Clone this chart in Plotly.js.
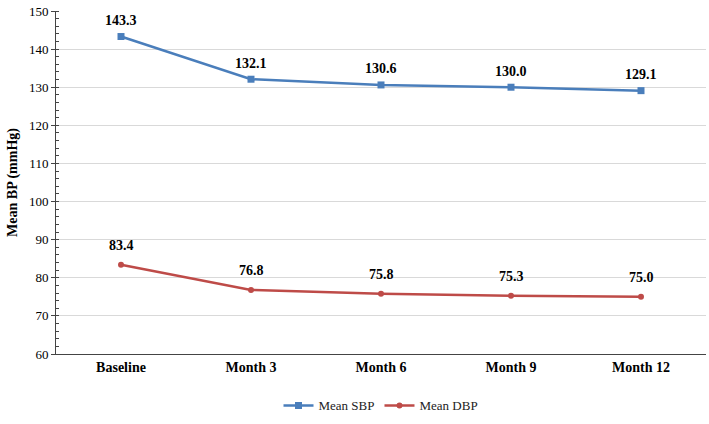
<!DOCTYPE html>
<html><head><meta charset="utf-8">
<script src="https://cdn.plot.ly/plotly-3.0.1.min.js"></script>
<style>body{margin:0;background:#fff}#c{width:709px;height:424px}</style>
</head><body><div id="c"></div>
<script>
const categories = ["Baseline", "Month 3", "Month 6", "Month 9", "Month 12"];
const sbp = [143.3, 132.1, 130.6, 130.0, 129.1];
const dbp = [83.4, 76.8, 75.8, 75.3, 75.0];
const sbpLabels = ["143.3", "132.1", "130.6", "130.0", "129.1"];
const dbpLabels = ["83.4", "76.8", "75.8", "75.3", "75.0"];

const serif = "'Liberation Serif', 'Times New Roman', serif";
const traces = [
  {x: categories, y: sbp, name: "Mean SBP", type: "scatter", mode: "lines+markers",
   line: {color: "#4A7EBB", width: 2.5}, marker: {symbol: "square", size: 7, color: "#4A7EBB"}},
  {x: categories, y: dbp, name: "Mean DBP", type: "scatter", mode: "lines+markers",
   line: {color: "#BE4B48", width: 2.5}, marker: {symbol: "circle", size: 6, color: "#BE4B48"}}
];
const labelFont = {family: serif, size: 14, color: "#000", weight: "bold"};
const annotations = [];
categories.forEach((c, i) => {
  annotations.push({x: c, y: sbp[i], text: sbpLabels[i], showarrow: false, yanchor: "middle", yshift: 16, font: labelFont});
  annotations.push({x: c, y: dbp[i], text: dbpLabels[i], showarrow: false, yanchor: "middle", yshift: 19, font: labelFont});
});
const layout = {
  width: 709, height: 424,
  margin: {l: 56, r: 3, t: 11, b: 68},
  paper_bgcolor: "#fff", plot_bgcolor: "#fff",
  font: {family: serif, color: "#000", size: 13},
  showlegend: true,
  annotations: annotations,
  legend: {orientation: "h", x: 0.5, xanchor: "center", y: -0.15, yanchor: "middle",
           font: {family: serif, size: 13, color: "#222"}, itemwidth: 30},
  xaxis: {type: "category", showgrid: false, showline: true, linecolor: "#444", linewidth: 1,
          ticks: "", tickfont: {family: serif, size: 14, weight: "bold"}, zeroline: false,
          range: [-0.5, 4.5]},
  yaxis: {range: [60, 150], dtick: 10, showgrid: true, gridcolor: "#d9d9d9", gridwidth: 1,
          showline: true, linecolor: "#444", linewidth: 1, ticks: "outside", ticklen: 4, tickcolor: "#444",
          tickfont: {family: serif, size: 13}, zeroline: false,
          minor: {dtick: 2, ticks: "inside", ticklen: 3, tickcolor: "#444", showgrid: false},
          title: {text: "Mean BP (mmHg)", font: {family: serif, size: 14, weight: "bold"}, standoff: 8}}
};
Plotly.newPlot("c", traces, layout, {displayModeBar: false, staticPlot: true});
</script></body></html>
